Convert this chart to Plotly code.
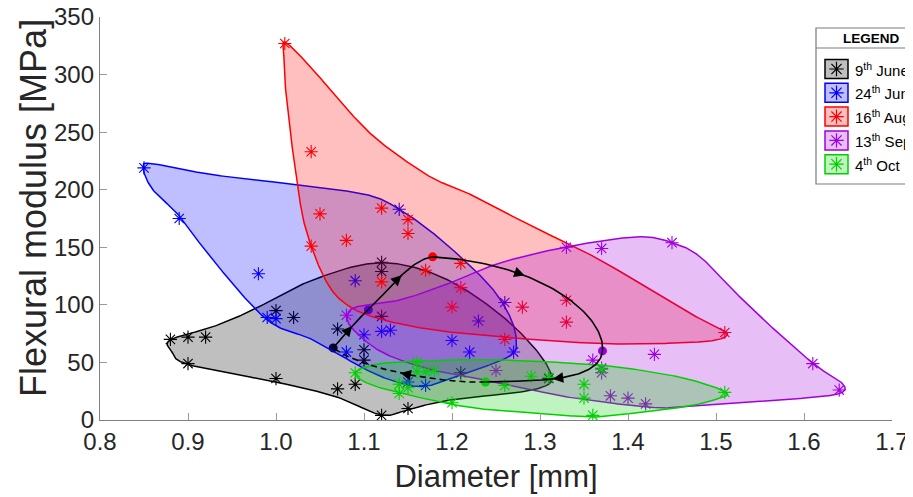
import numpy as np
import plotly.graph_objects as go

# ---------------- data ----------------
SERIES_NAMES = ["9<sup>th</sup> June", "24<sup>th</sup> June", "16<sup>th</sup> Aug",
                "13<sup>th</sup> Sept", "4<sup>th</sup> Oct"]

JUNE9_D = [0.88, 0.90, 0.92, 0.90, 1.00, 1.02, 1.00, 1.07, 1.07, 1.09, 1.10, 1.10,
           1.12, 1.12, 1.12, 1.12, 1.15, 1.21, 1.31]
JUNE9_E = [70, 72, 72, 49, 95, 89, 36, 79, 27, 31, 61, 52, 137, 129, 90, 4, 10, 41, 36]

JUNE24_D = [0.85, 0.89, 0.98, 0.99, 1.00, 1.09, 1.10, 1.12, 1.13, 1.08, 1.14, 1.20,
            1.23, 1.22, 1.26, 1.27, 1.17, 1.15]
JUNE24_E = [219, 175, 127, 89, 88, 121, 74, 77, 78, 59, 183, 69, 86, 59, 102, 59, 30, 33]

AUG16_D = [1.01, 1.04, 1.05, 1.08, 1.04, 1.12, 1.15, 1.15, 1.12, 1.17, 1.21, 1.21,
           1.20, 1.28, 1.33, 1.33, 1.26, 1.51]
AUG16_E = [327, 233, 179, 156, 151, 184, 174, 162, 120, 130, 136, 115, 98, 98, 104, 85, 70, 76]

SEPT13_D = [1.08, 1.25, 1.33, 1.37, 1.45, 1.36, 1.37, 1.37, 1.38, 1.40, 1.42, 1.43, 1.61, 1.64]
SEPT13_E = [91, 43, 150, 149, 154, 52, 45, 41, 21, 19, 14, 57, 49, 26]

OCT4_D = [1.09, 1.14, 1.14, 1.15, 1.16, 1.16, 1.17, 1.18, 1.20, 1.26, 1.29, 1.31,
          1.35, 1.35, 1.36, 1.37, 1.51]
OCT4_E = [41, 31, 23, 28, 50, 42, 42, 43, 15, 30, 38, 37, 31, 19, 4, 44, 24]

# outline (envelope) vertices of each group
JUNE9_HULL_D = [0.880, 0.928, 0.974, 1.042, 1.118, 1.190, 1.262, 1.309, 1.300, 1.198,
                1.152, 1.120, 1.069, 1.005, 0.902, 0.882]
JUNE9_HULL_E = [69.6, 80.9, 95.7, 121.7, 136.5, 123.5, 87.0, 46.1, 27.8, 17.4,
                9.6, 4.3, 20.0, 32.2, 47.8, 59.0]

JUNE24_HULL_D = [0.849, 0.860, 0.928, 1.024, 1.103, 1.141, 1.178, 1.217, 1.247, 1.266,
                 1.273, 1.266, 1.217, 1.172, 1.141, 1.103, 1.042, 0.990, 0.928, 0.891, 0.860]
JUNE24_HULL_E = [219.1, 222.6, 213.0, 204.3, 195.7, 182.6, 162.6, 136.5, 113.0, 89.6,
                 69.6, 55.7, 40.9, 29.6, 32.2, 43.5, 69.6, 87.0, 139.1, 176.5, 200.0]

AUG16_HULL_D = [1.011, 1.042, 1.081, 1.118, 1.175, 1.217, 1.292, 1.368, 1.463, 1.501,
                1.513, 1.501, 1.463, 1.388, 1.331, 1.255, 1.178, 1.122, 1.084, 1.058,
                1.035, 1.024, 1.012, 1.009]
AUG16_HULL_E = [327.8, 304.3, 269.6, 241.7, 211.3, 197.4, 167.8, 139.1, 95.7, 80.9,
                74.8, 69.6, 67.0, 66.1, 67.8, 72.2, 78.3, 87.0, 98.3, 119.1,
                162.6, 206.1, 278.3, 317.0]

SEPT13_HULL_D = [1.081, 1.092, 1.141, 1.198, 1.255, 1.331, 1.410, 1.451, 1.482, 1.519,
                 1.558, 1.611, 1.642, 1.644, 1.615, 1.539, 1.463, 1.422, 1.331, 1.255,
                 1.178, 1.122, 1.088]
SEPT13_HULL_E = [90.4, 98.3, 104.3, 119.1, 136.5, 150.4, 159.1, 153.9, 141.7, 113.0,
                 84.3, 48.7, 33.0, 24.3, 20.0, 15.7, 11.3, 11.3, 20.0, 32.2,
                 43.5, 58.3, 78.3]

OCT4_HULL_D = [1.090, 1.110, 1.141, 1.198, 1.255, 1.331, 1.388, 1.463, 1.511, 1.501,
               1.463, 1.388, 1.360, 1.292, 1.217, 1.141, 1.103]
OCT4_HULL_E = [40.9, 47.8, 50.4, 52.2, 52.2, 49.6, 46.1, 36.5, 24.3, 18.3,
               11.3, 4.3, 2.6, 6.1, 11.3, 23.5, 32.2]

# group centres (trajectory nodes)
CENTROID_D = [1.065, 1.105, 1.178, 1.371, 1.238]
CENTROID_E = [62.6, 95.7, 141.7, 60.0, 33.0]

X_TICKS = [0.8, 0.9, 1.0, 1.1, 1.2, 1.3, 1.4, 1.5, 1.6, 1.7]
Y_TICKS = [0, 50, 100, 150, 200, 250, 300, 350]

X_TITLE = "Diameter [mm]"
Y_TITLE = "Flexural modulus [MPa]"

# ---------------- style ----------------
LINE_COLORS = ["#000000", "#0000ff", "#ff0000", "#a000dc", "#00d000"]
FILL_COLORS = ["rgba(0,0,0,0.25)", "rgba(0,0,255,0.25)", "rgba(255,0,0,0.25)",
               "rgba(160,0,220,0.25)", "rgba(0,208,0,0.25)"]
FONT = "Liberation Sans, Arial, Helvetica, sans-serif"
PAGE_OFF = 8                      # default page margin of the html body
W, H = 913 - PAGE_OFF, 497 - PAGE_OFF
ML, MR, MT, MB = 100 - PAGE_OFF, 21, 17 - PAGE_OFF, 77
X_RANGE = [0.8, 1.7]
Y_RANGE = [0, 350]
PW, PH = W - ML - MR, H - MT - MB
KX = PW / (X_RANGE[1] - X_RANGE[0])   # px per mm
KY = PH / (Y_RANGE[1] - Y_RANGE[0])   # px per MPa

# trajectory tangents (screen px, y downward): (start, end) for each leg
SEG_TAN = [((35, -38), (50, -45)),
           ((50, -45), (70, -8)),
           ((340, 20), (-10, 100)),
           ((-10, 100), (-120, 5))]
RETURN_TAN = ((-120, 5), (-88, -67))
ARROW_T = [0.5, 0.5, 0.3, 0.5]


def closed_spline(xs, ys, n=30):
    P = np.column_stack([xs, ys]).astype(float)
    N = len(P)
    t = np.linspace(0, 1, n, endpoint=False)[:, None]
    segs = []
    for i in range(N):
        p0, p1, p2, p3 = P[i - 1], P[i], P[(i + 1) % N], P[(i + 2) % N]
        segs.append(0.5 * (2 * p1 + (-p0 + p2) * t + (2 * p0 - 5 * p1 + 4 * p2 - p3) * t ** 2
                           + (-p0 + 3 * p1 - 3 * p2 + p3) * t ** 3))
    out = np.vstack(segs + [P[:1]])
    return out[:, 0], out[:, 1]


def tan_to_data(m):
    return np.array([m[0] / KX, -m[1] / KY])


def hermite(p0, p1, m0, m1, t):
    t = np.atleast_1d(t)[:, None]
    h00 = 2 * t ** 3 - 3 * t ** 2 + 1
    h10 = t ** 3 - 2 * t ** 2 + t
    h01 = -2 * t ** 3 + 3 * t ** 2
    h11 = t ** 3 - t ** 2
    pos = h00 * p0 + h10 * m0 + h01 * p1 + h11 * m1
    d00 = 6 * t ** 2 - 6 * t
    d10 = 3 * t ** 2 - 4 * t + 1
    d01 = -6 * t ** 2 + 6 * t
    d11 = 3 * t ** 2 - 2 * t
    der = d00 * p0 + d10 * m0 + d01 * p1 + d11 * m1
    return pos, der


fig = go.Figure()

groups = [
    (JUNE9_D, JUNE9_E, JUNE9_HULL_D, JUNE9_HULL_E),
    (JUNE24_D, JUNE24_E, JUNE24_HULL_D, JUNE24_HULL_E),
    (AUG16_D, AUG16_E, AUG16_HULL_D, AUG16_HULL_E),
    (SEPT13_D, SEPT13_E, SEPT13_HULL_D, SEPT13_HULL_E),
    (OCT4_D, OCT4_E, OCT4_HULL_D, OCT4_HULL_E),
]

for i, (d, e, hd, he) in enumerate(groups):
    sx, sy = closed_spline(hd, he)
    fig.add_trace(go.Scatter(x=sx, y=sy, mode="lines", fill="toself",
                             fillcolor=FILL_COLORS[i],
                             line=dict(color=LINE_COLORS[i], width=1.5),
                             hoverinfo="skip", showlegend=False))
    fig.add_trace(go.Scatter(x=d, y=e, mode="markers", name=SERIES_NAMES[i],
                             marker=dict(symbol="asterisk-open", size=11, color=LINE_COLORS[i],
                                         line=dict(color=LINE_COLORS[i], width=1.1)),
                             showlegend=False))
    fig.add_trace(go.Scatter(x=[CENTROID_D[i]], y=[CENTROID_E[i]], mode="markers",
                             marker=dict(symbol="circle", size=9, color=LINE_COLORS[i]),
                             hoverinfo="skip", showlegend=False))

# trajectory between the group centres
C = np.column_stack([CENTROID_D, CENTROID_E]).astype(float)
tt = np.linspace(0, 1, 60)
legs = []
for k in range(len(C) - 1):
    legs.append((C[k], C[k + 1], tan_to_data(SEG_TAN[k][0]), tan_to_data(SEG_TAN[k][1]),
                 ARROW_T[k]))
solid = np.vstack([hermite(p0, p1, m0, m1, tt)[0] for p0, p1, m0, m1, _ in legs])
fig.add_trace(go.Scatter(x=solid[:, 0], y=solid[:, 1], mode="lines",
                         line=dict(color="black", width=1.6), hoverinfo="skip",
                         showlegend=False))
ret_leg = (C[-1], C[0], tan_to_data(RETURN_TAN[0]), tan_to_data(RETURN_TAN[1]), 0.5)
ret, _ = hermite(*ret_leg[:4], tt)
fig.add_trace(go.Scatter(x=ret[:, 0], y=ret[:, 1], mode="lines",
                         line=dict(color="black", width=1.6, dash="6px,4px"),
                         hoverinfo="skip", showlegend=False))
legs.append(ret_leg)

annotations = []
for p0, p1, m0, m1, ta in legs:
    pos, der = hermite(p0, p1, m0, m1, ta)
    pos, der = pos[0], der[0]
    ux, uy = der[0] * KX, -der[1] * KY
    nrm = np.hypot(ux, uy)
    ux, uy = ux / nrm, uy / nrm
    tip = pos + np.array([ux * 5 / KX, -uy * 5 / KY])
    annotations.append(dict(x=tip[0], y=tip[1], xref="x", yref="y", text="",
                            showarrow=True, arrowhead=2, arrowsize=1.4, arrowwidth=1.5,
                            arrowcolor="black", ax=-ux * 10, ay=-uy * 10, standoff=0))


# ---------------- page-pixel helpers ----------------
def xp(px):
    return (px - PAGE_OFF - ML) / PW


def yp(py):
    return (MT + PH - (py - PAGE_OFF)) / PH


# y axis title placed as rotated text
annotations.append(dict(x=xp(33), y=yp(208), xref="paper", yref="paper", text=Y_TITLE,
                        textangle=-90, showarrow=False, xanchor="center", yanchor="middle",
                        font=dict(family=FONT, size=36, color="#262626")))

# ---------------- custom legend (box clipped by the figure edge) ----------------
LEG_L, LEG_R, LEG_T, LEG_B, LEG_SEP = 816, 926, 28, 184, 48
ROW0, ROW_STEP = 69, 23.8
SW_L, SW_R, SW_H = 825, 848, 19
TXT_X = 853

shapes = [
    dict(type="rect", xref="paper", yref="paper", x0=xp(LEG_L), x1=xp(LEG_R),
         y0=yp(LEG_B), y1=yp(LEG_T), line=dict(color="#7a7a7a", width=1.2),
         fillcolor="white", layer="below"),
    dict(type="line", xref="paper", yref="paper", x0=xp(LEG_L), x1=xp(LEG_R),
         y0=yp(LEG_SEP), y1=yp(LEG_SEP), line=dict(color="#7a7a7a", width=1.2),
         layer="below"),
]
annotations.append(dict(x=xp((LEG_L + LEG_R) / 2), y=yp((LEG_T + LEG_SEP) / 2),
                        xref="paper", yref="paper", text="<b>LEGEND</b>", showarrow=False,
                        font=dict(family=FONT, size=13.5, color="black"),
                        xanchor="center", yanchor="middle"))
leg_mx, leg_my = [], []
for i, name in enumerate(SERIES_NAMES):
    cy = ROW0 + i * ROW_STEP
    shapes.append(dict(type="rect", xref="paper", yref="paper",
                       x0=xp(SW_L), x1=xp(SW_R), y0=yp(cy + SW_H / 2), y1=yp(cy - SW_H / 2),
                       line=dict(color=LINE_COLORS[i], width=1.5),
                       fillcolor=FILL_COLORS[i], layer="below"))
    leg_mx.append(xp((SW_L + SW_R) / 2))
    leg_my.append(yp(cy))
    annotations.append(dict(x=xp(TXT_X), y=yp(cy), xref="paper", yref="paper", text=name,
                            showarrow=False, xanchor="left", yanchor="middle",
                            font=dict(family=FONT, size=15, color="black")))

fig.add_trace(go.Scatter(x=leg_mx, y=leg_my, xaxis="x2", yaxis="y2", mode="markers",
                         marker=dict(symbol="asterisk-open", size=12, color=LINE_COLORS,
                                     line=dict(color=LINE_COLORS, width=1.2)),
                         hoverinfo="skip", showlegend=False, cliponaxis=False))

axis_common = dict(showline=True, linecolor="#808080", linewidth=1.3, ticks="inside",
                   ticklen=7, tickcolor="#9a9a9a", tickwidth=1, showgrid=False,
                   zeroline=False, mirror=False, ticklabeloverflow="allow",
                   tickfont=dict(family=FONT, size=24, color="#262626"))

fig.update_layout(
    width=W, height=H,
    margin=dict(l=ML, r=MR, t=MT, b=MB, autoexpand=False),
    paper_bgcolor="white", plot_bgcolor="white",
    showlegend=False,
    xaxis=dict(range=X_RANGE, tickvals=X_TICKS, tickformat=".1f",
               title=dict(text=X_TITLE, standoff=11,
                          font=dict(family=FONT, size=31, color="#262626")),
               **axis_common),
    yaxis=dict(range=Y_RANGE, tickvals=Y_TICKS, **axis_common),
    xaxis2=dict(domain=[0, 1], range=[0, 1], overlaying="x", anchor="y2", visible=False,
                fixedrange=True),
    yaxis2=dict(domain=[0, 1], range=[0, 1], overlaying="y", anchor="x2", visible=False,
                fixedrange=True),
    shapes=shapes,
    annotations=annotations,
)

fig.write_html("out.html")
